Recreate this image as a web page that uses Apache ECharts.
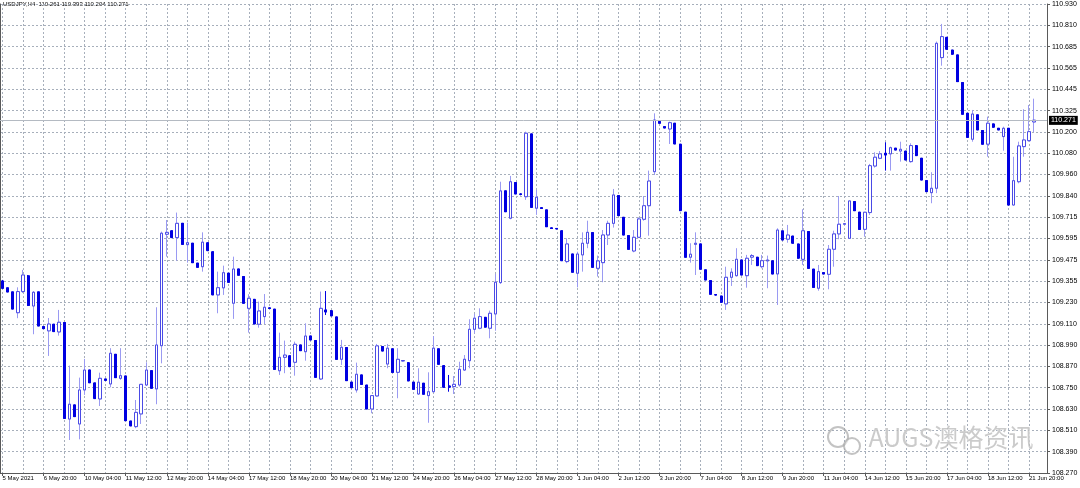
<!DOCTYPE html>
<html><head><meta charset="utf-8">
<script src="https://cdn.jsdelivr.net/npm/echarts@6/dist/echarts.min.js"></script>
<style>html,body{margin:0;padding:0;background:#fff}#c{width:1080px;height:488px}</style>
</head><body><div id="c"></div>
<script>
const opens=[109.359,109.320,109.297,109.179,109.299,109.388,109.217,109.297,109.100,109.076,109.114,109.070,109.123,108.576,108.656,108.548,108.741,108.854,108.781,108.690,108.803,108.775,108.943,108.807,108.820,108.565,108.533,108.605,108.769,108.850,108.747,108.992,109.624,109.644,109.605,109.686,109.565,109.573,109.460,109.440,109.576,109.525,109.280,109.320,109.403,109.233,109.427,109.384,109.204,109.255,109.114,109.157,109.206,109.199,108.850,108.926,108.935,108.898,108.996,108.958,109.047,109.021,108.803,109.195,109.191,109.155,108.915,108.981,108.785,108.741,108.826,108.769,108.633,108.707,108.987,108.888,108.974,108.841,108.905,108.896,108.785,108.718,108.779,108.709,108.731,108.974,108.879,108.764,108.760,108.769,108.854,108.907,109.085,109.091,109.153,109.091,109.172,109.350,109.870,109.715,109.917,109.853,109.837,110.193,109.772,109.774,109.762,109.660,109.657,109.644,109.469,109.512,109.403,109.507,109.573,109.633,109.431,109.463,109.620,109.686,109.843,109.720,109.616,109.529,109.607,109.709,109.786,109.979,110.263,110.234,110.221,110.254,110.135,109.749,109.494,109.567,109.569,109.422,109.361,109.282,109.274,109.229,109.380,109.389,109.478,109.389,109.494,109.494,109.440,109.473,109.473,109.399,109.643,109.596,109.614,109.569,109.482,109.639,109.426,109.318,109.406,109.397,109.539,109.626,109.681,109.601,109.809,109.749,109.652,109.747,110.011,110.055,110.083,110.080,110.112,110.096,110.096,110.036,110.127,110.055,109.928,109.860,109.885,110.626,110.741,110.669,110.641,110.484,110.310,110.163,110.301,110.212,110.135,110.250,110.225,110.178,110.225,109.790,109.922,110.121,110.155,110.261];
const closes=[109.318,109.297,109.200,109.299,109.393,109.221,109.295,109.104,109.089,109.115,109.072,109.125,108.580,108.660,108.590,108.741,108.854,108.782,108.692,108.807,108.796,108.949,108.811,108.822,108.567,108.537,108.614,108.773,108.854,108.751,108.996,109.630,109.635,109.605,109.686,109.567,109.576,109.463,109.437,109.579,109.531,109.280,109.321,109.406,109.352,109.427,109.392,109.233,109.261,109.115,109.189,109.210,109.204,108.858,108.926,108.939,108.873,109.000,108.964,109.047,109.025,108.813,109.204,109.183,109.161,108.915,108.983,108.794,108.754,108.830,108.773,108.633,108.709,108.991,108.962,108.978,108.841,108.915,108.908,108.792,108.745,108.785,108.717,108.731,108.978,108.887,108.756,108.756,108.773,108.858,108.915,109.085,109.148,109.157,109.097,109.176,109.352,109.870,109.752,109.922,109.853,109.850,110.197,109.777,109.834,109.771,109.667,109.657,109.654,109.474,109.569,109.409,109.512,109.573,109.635,109.437,109.473,109.620,109.686,109.847,109.730,109.620,109.539,109.607,109.711,109.786,109.926,110.272,110.254,110.227,110.257,110.136,109.758,109.494,109.511,109.573,109.426,109.365,109.284,109.279,109.238,109.380,109.409,109.482,109.393,109.488,109.503,109.446,109.474,109.478,109.399,109.648,109.592,109.620,109.573,109.488,109.644,109.431,109.323,109.412,109.399,109.539,109.626,109.681,109.684,109.813,109.758,109.652,109.749,110.013,110.061,110.080,110.074,110.115,110.102,110.106,110.045,110.127,110.070,109.932,109.866,109.885,110.707,110.745,110.673,110.645,110.490,110.305,110.174,110.306,110.216,110.135,110.254,110.231,110.216,110.225,109.790,109.928,110.125,110.159,110.206,110.271];
const lows=[109.314,109.297,109.200,109.148,109.291,109.217,109.057,109.104,109.089,108.934,109.072,109.049,108.580,108.457,108.590,108.461,108.713,108.782,108.692,108.650,108.796,108.756,108.811,108.798,108.567,108.537,108.524,108.548,108.764,108.751,108.660,108.892,109.497,109.605,109.474,109.567,109.463,109.463,109.437,109.412,109.531,109.280,109.176,109.280,109.352,109.144,109.392,109.233,109.066,109.115,109.094,109.115,109.202,108.858,108.826,108.836,108.873,108.822,108.964,108.907,109.025,108.813,108.798,109.166,109.161,108.915,108.883,108.794,108.754,108.726,108.773,108.633,108.609,108.703,108.962,108.864,108.841,108.694,108.903,108.792,108.745,108.713,108.717,108.555,108.726,108.887,108.756,108.731,108.718,108.760,108.850,108.864,109.062,109.085,109.097,109.034,109.077,109.342,109.752,109.709,109.853,109.845,109.819,109.777,109.734,109.769,109.667,109.655,109.652,109.474,109.460,109.409,109.323,109.412,109.545,109.437,109.384,109.352,109.563,109.662,109.730,109.620,109.539,109.522,109.605,109.701,109.616,109.960,110.254,110.227,110.136,110.136,109.758,109.494,109.463,109.393,109.426,109.365,109.284,109.277,109.238,109.195,109.331,109.384,109.393,109.321,109.450,109.446,109.431,109.318,109.399,109.223,109.592,109.576,109.573,109.488,109.450,109.431,109.323,109.304,109.399,109.312,109.440,109.596,109.679,109.601,109.758,109.652,109.610,109.734,110.002,110.050,109.985,109.985,110.102,110.036,110.045,110.030,110.070,109.932,109.866,109.800,109.857,110.580,110.673,110.645,110.490,110.305,110.174,110.149,110.216,110.135,110.064,110.231,110.216,110.098,109.790,109.786,109.913,110.064,110.149,110.204];
const highs=[109.365,109.320,109.297,109.323,109.422,109.393,109.302,109.297,109.100,109.149,109.114,109.195,109.123,108.879,108.656,108.811,108.917,108.854,108.781,108.839,108.803,108.978,108.943,108.978,108.820,108.565,108.684,108.775,108.898,108.850,109.210,109.639,109.705,109.644,109.747,109.686,109.690,109.573,109.460,109.635,109.576,109.525,109.412,109.446,109.403,109.497,109.427,109.384,109.284,109.255,109.242,109.285,109.208,109.199,109.066,109.021,108.935,109.015,108.996,109.119,109.047,109.021,109.299,109.302,109.191,109.155,109.025,108.981,108.785,108.896,108.826,108.769,108.709,109.002,108.987,109.002,108.974,108.978,108.910,108.896,108.785,108.864,108.779,108.841,109.047,108.974,108.879,108.826,108.820,108.901,108.939,109.142,109.172,109.204,109.153,109.191,109.399,109.922,109.870,109.955,109.917,109.856,110.206,110.193,109.875,109.776,109.762,109.662,109.659,109.644,109.601,109.512,109.525,109.635,109.701,109.633,109.503,109.648,109.701,109.881,109.843,109.720,109.616,109.648,109.720,109.841,109.985,110.310,110.263,110.234,110.263,110.254,110.135,109.749,109.573,109.635,109.569,109.422,109.361,109.284,109.274,109.440,109.431,109.545,109.478,109.507,109.512,109.494,109.507,109.503,109.473,109.658,109.643,109.677,109.614,109.569,109.766,109.639,109.426,109.450,109.406,109.563,109.644,109.841,109.686,109.813,109.809,109.749,109.749,110.023,110.089,110.096,110.146,110.121,110.112,110.149,110.096,110.140,110.127,110.055,109.928,109.976,110.717,110.817,110.741,110.669,110.641,110.484,110.310,110.329,110.301,110.212,110.291,110.250,110.225,110.234,110.225,110.064,110.149,110.333,110.357,110.393];
const xTickLabels=['5 May 2021','6 May 20:00','10 May 04:00','11 May 12:00','12 May 20:00','14 May 04:00','17 May 12:00','18 May 20:00','20 May 04:00','21 May 12:00','24 May 20:00','26 May 04:00','27 May 12:00','28 May 20:00','1 Jun 04:00','2 Jun 12:00','3 Jun 20:00','7 Jun 04:00','8 Jun 12:00','9 Jun 20:00','11 Jun 04:00','14 Jun 12:00','15 Jun 20:00','17 Jun 04:00','18 Jun 12:00','21 Jun 20:00'];
const yTickLabels=['108.270','108.390','108.510','108.630','108.750','108.870','108.990','109.110','109.230','109.355','109.475','109.595','109.715','109.840','109.960','110.080','110.200','110.325','110.445','110.565','110.685','110.810','110.930'];
const priceMin=108.27, priceMax=110.93;
const lastPrice=110.271;
const titleText='USDJPY,H4  110.261 110.393 110.204 110.271';
const watermark='AUGS澳格资讯';

const SLOTS=204;
const categories=opens.map((_,i)=>'b'+i);
while(categories.length<SLOTS) categories.push('pad'+categories.length);
const halfSteps=Array.from({length:2*SLOTS+1},(_,j)=>'h'+j);

const candleData=opens.map((o,i)=>[o,closes[i],lows[i],highs[i]]);
const bullBodies=opens.map((o,i)=>closes[i]>=o?[o,closes[i],o,closes[i]]:'-');
const bearBodies=opens.map((o,i)=>closes[i]<o?[o,closes[i],closes[i],o]:'-');

const FONT='Liberation Sans';
const gridColor='#a7afbb';
const axisColor='#5a5a5a';
const chart=echarts.init(document.getElementById('c'),null,{renderer:'canvas'});
const GRID={left:0,right:33,top:4,bottom:15,containLabel:false,outerBoundsMode:'none'};
const baseGraphics=[
  {type:'text',left:3,top:1,style:{text:titleText,fontSize:6,fontFamily:FONT,fill:'#000'}},
  {type:'circle',shape:{cx:838,cy:437,r:10},style:{fill:'none',stroke:'rgba(170,170,170,0.7)',lineWidth:2},z:10},
  {type:'circle',shape:{cx:852,cy:446,r:8},style:{fill:'rgba(255,255,255,0.5)',stroke:'rgba(170,170,170,0.7)',lineWidth:2},z:10},
  {type:'text',left:868,top:424,z:10,style:{text:watermark,fontSize:25,fontFamily:'Noto Sans CJK SC',fill:'rgba(185,185,185,0.75)',stroke:'rgba(255,255,255,0.8)',lineWidth:1}}
];
chart.setOption({
  animation:false,
  backgroundColor:'#ffffff',
  grid:[GRID,Object.assign({},GRID)],
  xAxis:[
    {type:'category',data:categories,boundaryGap:true,show:false,gridIndex:0},
    {type:'category',data:halfSteps,boundaryGap:false,gridIndex:0,position:'bottom',
     axisLine:{show:true,lineStyle:{color:axisColor,width:1}},
     axisTick:{show:true,length:3,interval:(i)=>i%16===1,lineStyle:{color:axisColor}},
     axisLabel:{show:true,interval:(i)=>i%16===1,align:'left',margin:2,fontSize:6,fontFamily:FONT,color:'#000',hideOverlap:false,
       formatter:(v,i)=>{const k=(i-1)/16;return xTickLabels[k]!==undefined?xTickLabels[k]:'';}},
     splitLine:{show:true,interval:(i)=>i%8===1,lineStyle:{color:gridColor,type:[2,2],width:1}}},
    {type:'value',gridIndex:1,min:0,max:1,show:false}
  ],
  yAxis:[
    {type:'value',gridIndex:0,min:priceMin,max:priceMax,position:'left',scale:true,
     axisLine:{show:true,onZero:false,lineStyle:{color:axisColor}},axisTick:{show:false},axisLabel:{show:false},splitLine:{show:false}},
    {type:'value',gridIndex:1,min:0,max:22,interval:1,position:'right',
     axisLine:{show:true,onZero:false,lineStyle:{color:axisColor}},
     axisTick:{show:true,length:3,lineStyle:{color:axisColor}},
     axisLabel:{show:false},
     splitLine:{show:true,lineStyle:{color:gridColor,type:[2,2],width:1}}}
  ],
  series:[
    {type:'candlestick',name:'wicks',xAxisIndex:0,yAxisIndex:0,data:candleData,barWidth:2.5,silent:true,z:2,
     itemStyle:{color:'#9a9af2',color0:'#0000e0',borderColor:'#9a9af2',borderColor0:'#0000e0',borderWidth:1}},
    {type:'candlestick',name:'bull',xAxisIndex:0,yAxisIndex:0,data:bullBodies,barWidth:3,silent:true,z:3,
     itemStyle:{color:'#ffffff',color0:'#ffffff',borderColor:'#4a4ae6',borderColor0:'#4a4ae6',borderWidth:1}},
    {type:'candlestick',name:'bear',xAxisIndex:0,yAxisIndex:0,data:bearBodies,barWidth:2.2,silent:true,z:3,
     itemStyle:{color:'#0000e0',color0:'#0000e0',borderColor:'#0000e0',borderColor0:'#0000e0',borderWidth:1},
     markLine:{silent:true,symbol:['none','none'],animation:false,
       lineStyle:{color:'#b4bac2',type:'solid',width:1},
       label:{show:true,position:'end',distance:2,formatter:()=>lastPrice.toFixed(3),backgroundColor:'#000',color:'#fff',fontSize:7,fontFamily:FONT,padding:[1,2,1,2]},
       data:[{yAxis:lastPrice}]}}
  ],
  graphic:baseGraphics
});
// y-axis tick labels placed through the label axis's own scale
const axisX=chart.convertToPixel({xAxisIndex:2},1);
const yLabelGraphics=yTickLabels.map((t,i)=>({
  type:'text',x:axisX+5,y:chart.convertToPixel({yAxisIndex:1},i),z:5,
  style:{text:t,fontSize:7,fontFamily:FONT,fill:'#000',verticalAlign:'middle',align:'left'}
}));
chart.setOption({graphic:baseGraphics.concat(yLabelGraphics)});
</script></body></html>
